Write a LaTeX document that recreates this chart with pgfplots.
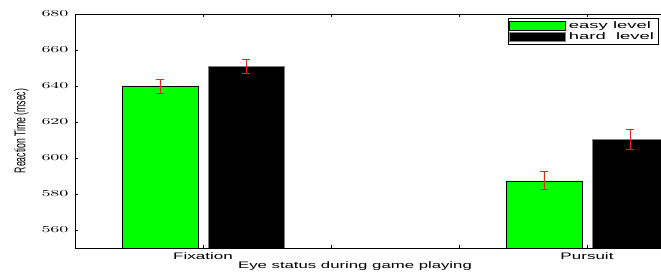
\documentclass[border=0pt]{standalone}
\usepackage{pgfplots}
\pgfplotsset{compat=1.18}
\usepackage{fontspec}
\setmainfont{Liberation Sans}
\definecolor{mgreen}{RGB}{0,255,0}
\definecolor{mred}{RGB}{240,30,30}
\newcommand{\sx}[2][1.8]{\scalebox{#1}[1]{#2}}
\begin{document}
\begin{tikzpicture}
\useasboundingbox (-75bp,-28bp) rectangle (586bp,248bp);
\begin{axis}[
  at={(0,0)}, anchor=south west,
  scale only axis, width=586bp, height=234bp,
  xmin=0.6667, xmax=2.1927, ymin=550, ymax=680,
  axis x line=box, axis y line=left,
  axis line style={-, line width=0.8pt},
  ybar, bar width=0.197,
  xtick={1,1.3333,1.6667,2},
  xticklabels={\sx{Fixation},,,\sx{Pursuit}},
  ytick={560,580,...,680},
  yticklabel={\sx[1.95]{\pgfmathprintnumber{\tick}}},
  tick align=inside, major tick length=3bp,
  tick style={black, line width=0.6pt},
  ticklabel style={font=\fontsize{9.5}{11}\selectfont},
  yticklabel style={xshift=-3bp},
  xticklabel style={yshift=-1bp},
  xlabel={\sx[1.77]{Eye status during game playing}},
  xlabel style={font=\fontsize{9.5}{11}\selectfont, yshift=5bp, xshift=-13bp},
  ylabel={\scalebox{1}[1.8]{Reaction Time (msec)}},
  ylabel style={font=\fontsize{8.7}{10}\selectfont, yshift=6bp},
  legend style={at={(0.9966,0.983)}, anchor=north east, draw=black, line width=0.8pt,
    font=\fontsize{9.5}{11}\selectfont, inner sep=1.5bp, row sep=-1.5bp,
    legend cell align=left, nodes={inner xsep=3bp}},
  legend image code/.code={\draw[#1, line width=0.5pt] (0bp,-4.3bp) rectangle (56bp,4.3bp);},
  error bars/y dir=both, error bars/y explicit,
  error bars/error bar style={mred, line width=0.8pt},
  error bars/error mark options={rotate=90, mred, mark size=4bp, line width=0.8pt},
]
\addplot[fill=mgreen, draw=black, line width=0.6pt, bar shift=-0.112]
  coordinates {(1,639.9) +- (0,3.9) (2,587.3) +- (0,5.0)};
\addplot[fill=black, draw=gray, line width=0.6pt, bar shift=0.112]
  coordinates {(1,650.7) +- (0,3.9) (2,610.2) +- (0,5.6)};
\legend{\sx[1.95]{easy level}, \sx[1.95]{hard\ \ level}}
\end{axis}
\end{tikzpicture}
\end{document}
